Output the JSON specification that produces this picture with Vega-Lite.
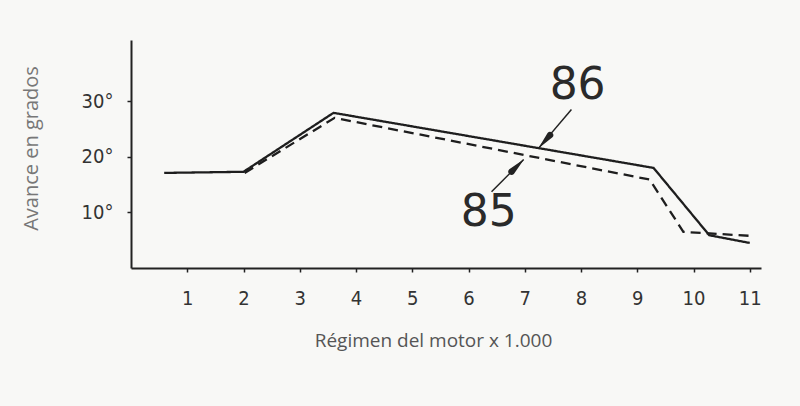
{
  "$schema": "https://vega.github.io/schema/vega-lite/v6.json",
  "autosize": "none",
  "width": 630,
  "height": 228,
  "padding": {"left": 131, "top": 40, "right": 39, "bottom": 138},
  "background": "#f8f8f6",
  "config": {
    "view": {"stroke": null},
    "axis": {"grid": false, "domainColor": "#222", "domainWidth": 2, "tickColor": "#222", "tickWidth": 1.5, "tickSize": 4, "labelColor": "#333", "labelFont": "DejaVu Sans Condensed", "labelFontSize": 20, "titleFont": "Open Sans", "titleFontWeight": "normal", "titleFontSize": 19, "titleColor": "#555"}
  },
  "datasets": {
    "lines": [
      {"serie": "86", "rpm": 0.59, "avance": 17.1},
      {"serie": "86", "rpm": 2.0, "avance": 17.3},
      {"serie": "86", "rpm": 3.6, "avance": 27.9},
      {"serie": "86", "rpm": 9.29, "avance": 18.0},
      {"serie": "86", "rpm": 10.28, "avance": 5.9},
      {"serie": "86", "rpm": 11.0, "avance": 4.5},
      {"serie": "85", "rpm": 2.02, "avance": 17.1},
      {"serie": "85", "rpm": 3.62, "avance": 27.0},
      {"serie": "85", "rpm": 9.22, "avance": 15.9},
      {"serie": "85", "rpm": 9.82, "avance": 6.5},
      {"serie": "85", "rpm": 10.98, "avance": 5.8}
    ],
    "arrows": [
      {"serie": "86", "x0": 7.83, "y0": 28.5, "x1": 7.25, "y1": 21.6},
      {"serie": "85", "x0": 6.41, "y0": 13.7, "x1": 6.98, "y1": 19.5}
    ],
    "heads": [
      {"serie": "86", "k": 1, "x": 7.449, "y": 23.9, "w": 6.5},
      {"serie": "86", "k": 2, "x": 7.25, "y": 21.6, "w": 0.3},
      {"serie": "85", "k": 1, "x": 6.766, "y": 17.33, "w": 6.5},
      {"serie": "85", "k": 2, "x": 6.98, "y": 19.5, "w": 0.3}
    ],
    "labels": [
      {"txt": "86", "x": 7.94, "y": 32.8},
      {"txt": "85", "x": 6.36, "y": 9.9}
    ]
  },
  "layer": [
    {
      "data": {"name": "lines"},
      "mark": {"type": "line", "color": "#1e1e1e", "strokeWidth": 2.3},
      "encoding": {
        "x": {"field": "rpm", "type": "quantitative", "scale": {"domain": [0, 11.2], "nice": false, "zero": false},
          "axis": {"values": [1,2,3,4,5,6,7,8,9,10,11], "format": "d", "labelPadding": 16, "title": "Régimen del motor x 1.000", "titleX": 302, "titleY": 72, "titleBaseline": "middle", "titleAnchor": "start", "titleAlign": "center"}},
        "y": {"field": "avance", "type": "quantitative", "scale": {"domain": [0, 41], "nice": false},
          "axis": {"values": [10, 20, 30], "labelExpr": "datum.value + '°'", "labelPadding": 14, "title": "Avance en grados", "titleX": -100, "titleY": 108, "titleAngle": -90, "titleAlign": "center", "titleBaseline": "middle", "titleColor": "#777", "titleFontSize": 20}},
        "detail": {"field": "serie"},
        "strokeDash": {"field": "serie", "type": "nominal", "scale": {"domain": ["86", "85"], "range": [[1, 0], [10, 6]]}, "legend": null}
      }
    },
    {
      "data": {"name": "arrows"},
      "mark": {"type": "rule", "color": "#222", "strokeWidth": 1.5},
      "encoding": {
        "x": {"field": "x0", "type": "quantitative"},
        "y": {"field": "y0", "type": "quantitative"},
        "x2": {"field": "x1"},
        "y2": {"field": "y1"}
      }
    },
    {
      "data": {"name": "heads"},
      "mark": {"type": "trail", "color": "#222"},
      "encoding": {
        "x": {"field": "x", "type": "quantitative"},
        "y": {"field": "y", "type": "quantitative"},
        "detail": {"field": "serie"},
        "order": {"field": "k", "type": "quantitative"},
        "size": {"field": "w", "type": "quantitative", "scale": null, "legend": null}
      }
    },
    {
      "data": {"name": "labels"},
      "mark": {"type": "text", "font": "DejaVu Sans", "fontSize": 44, "color": "#2a2a2a", "baseline": "middle", "align": "center"},
      "encoding": {
        "x": {"field": "x", "type": "quantitative"},
        "y": {"field": "y", "type": "quantitative"},
        "text": {"field": "txt"}
      }
    }
  ]
}
